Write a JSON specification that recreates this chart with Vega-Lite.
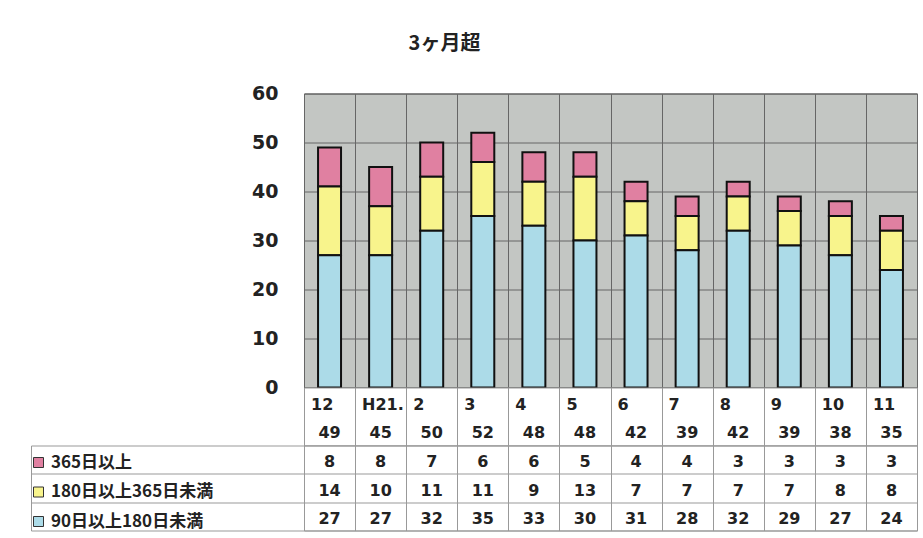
{
  "$schema": "https://vega.github.io/schema/vega-lite/v6.json",
  "background": "white",
  "padding": {"left": 30, "top": 32.5, "right": 7, "bottom": 9},
  "spacing": 0,
  "bounds": "flush",
  "config": {
    "font": "DejaVu Sans",
    "text": {"font": "DejaVu Sans", "fontSize": 16, "fontWeight": "bold", "color": "#222222"}
  },
  "datasets": {
    "seriesRank": [
      {"series": "90日以上180日未満", "rank": 1},
      {"series": "180日以上365日未満", "rank": 2},
      {"series": "365日以上", "rank": 3}
    ],
    "counts": [
      {"month": "12", "series": "365日以上", "value": 8},
      {"month": "12", "series": "180日以上365日未満", "value": 14},
      {"month": "12", "series": "90日以上180日未満", "value": 27},
      {"month": "H21.", "series": "365日以上", "value": 8},
      {"month": "H21.", "series": "180日以上365日未満", "value": 10},
      {"month": "H21.", "series": "90日以上180日未満", "value": 27},
      {"month": "2", "series": "365日以上", "value": 7},
      {"month": "2", "series": "180日以上365日未満", "value": 11},
      {"month": "2", "series": "90日以上180日未満", "value": 32},
      {"month": "3", "series": "365日以上", "value": 6},
      {"month": "3", "series": "180日以上365日未満", "value": 11},
      {"month": "3", "series": "90日以上180日未満", "value": 35},
      {"month": "4", "series": "365日以上", "value": 6},
      {"month": "4", "series": "180日以上365日未満", "value": 9},
      {"month": "4", "series": "90日以上180日未満", "value": 33},
      {"month": "5", "series": "365日以上", "value": 5},
      {"month": "5", "series": "180日以上365日未満", "value": 13},
      {"month": "5", "series": "90日以上180日未満", "value": 30},
      {"month": "6", "series": "365日以上", "value": 4},
      {"month": "6", "series": "180日以上365日未満", "value": 7},
      {"month": "6", "series": "90日以上180日未満", "value": 31},
      {"month": "7", "series": "365日以上", "value": 4},
      {"month": "7", "series": "180日以上365日未満", "value": 7},
      {"month": "7", "series": "90日以上180日未満", "value": 28},
      {"month": "8", "series": "365日以上", "value": 3},
      {"month": "8", "series": "180日以上365日未満", "value": 7},
      {"month": "8", "series": "90日以上180日未満", "value": 32},
      {"month": "9", "series": "365日以上", "value": 3},
      {"month": "9", "series": "180日以上365日未満", "value": 7},
      {"month": "9", "series": "90日以上180日未満", "value": 29},
      {"month": "10", "series": "365日以上", "value": 3},
      {"month": "10", "series": "180日以上365日未満", "value": 8},
      {"month": "10", "series": "90日以上180日未満", "value": 27},
      {"month": "11", "series": "365日以上", "value": 3},
      {"month": "11", "series": "180日以上365日未満", "value": 8},
      {"month": "11", "series": "90日以上180日未満", "value": 24}
    ]
  },
  "vconcat": [
    {
      "width": 613,
      "height": 294,
      "title": {
        "text": "3ヶ月超",
        "anchor": "middle",
        "frame": "group",
        "dx": -166,
        "offset": 31,
        "font": "Noto Sans CJK JP",
        "fontSize": 20,
        "fontWeight": "bold",
        "color": "#222222"
      },
      "view": {"fill": "#c3c6c3", "stroke": "#555555", "strokeWidth": 1},
      "data": {"name": "counts"},
      "transform": [
        {"lookup": "series", "from": {"data": {"name": "seriesRank"}, "key": "series", "fields": ["rank"]}}
      ],
      "mark": {"type": "bar", "width": {"band": 0.45}, "stroke": "#111111", "strokeWidth": 2},
      "encoding": {
        "x": {
          "field": "month",
          "type": "ordinal",
          "sort": null,
          "scale": {"paddingInner": 0, "paddingOuter": 0},
          "axis": {
            "title": null,
            "labels": false,
            "ticks": false,
            "domain": false,
            "grid": true,
            "tickBand": "extent",
            "gridColor": "#666666",
            "gridWidth": 1
          }
        },
        "y": {
          "field": "value",
          "type": "quantitative",
          "stack": "zero",
          "scale": {"domain": [0, 60]},
          "axis": {
            "title": null,
            "values": [0, 10, 20, 30, 40, 50, 60],
            "ticks": false,
            "domain": false,
            "grid": true,
            "gridColor": "#666666",
            "gridWidth": 1,
            "labelPadding": 26,
            "labelFont": "DejaVu Sans",
            "labelFontSize": 19,
            "labelFontWeight": "bold",
            "labelColor": "#222222"
          }
        },
        "order": {"field": "rank", "type": "quantitative", "sort": "ascending"},
        "color": {
          "field": "series",
          "type": "nominal",
          "sort": ["365日以上", "180日以上365日未満", "90日以上180日未満"],
          "scale": {"range": ["#e080a1", "#f8f48c", "#acdbe8"]},
          "legend": {
            "orient": "none",
            "legendX": -274,
            "legendY": 360.5,
            "title": null,
            "padding": 0,
            "symbolType": "square",
            "symbolSize": 100,
            "symbolStrokeColor": "#333333",
            "symbolStrokeWidth": 1,
            "labelFont": "Noto Sans CJK JP",
            "labelFontSize": 17,
            "labelFontWeight": "bold",
            "labelColor": "#222222",
            "labelOffset": 4,
            "labelLimit": 300,
            "rowPadding": 11.5
          }
        }
      }
    },
    {
      "width": 613,
      "height": 58,
      "view": {"fill": "white", "stroke": "#999999", "strokeWidth": 1},
      "data": {"name": "counts"},
      "transform": [
        {"aggregate": [{"op": "sum", "field": "value", "as": "total"}], "groupby": ["month"]}
      ],
      "layer": [
        {
          "mark": {"type": "text", "align": "left", "dx": 7, "dy": 2.5},
          "encoding": {
            "x": {
              "field": "month",
              "type": "ordinal",
              "sort": null,
              "bandPosition": 0,
              "scale": {"paddingInner": 0, "paddingOuter": 0},
              "axis": {
                "title": null,
                "labels": false,
                "ticks": false,
                "domain": false,
                "grid": true,
                "tickBand": "extent",
                "gridColor": "#999999"
              }
            },
            "y": {"datum": "month", "type": "nominal", "scale": {"domain": ["month", "total"]}, "axis": null},
            "text": {"field": "month", "type": "nominal"}
          }
        },
        {
          "mark": {"type": "text", "dy": 1.5},
          "encoding": {
            "x": {
              "field": "month",
              "type": "ordinal",
              "sort": null,
              "scale": {"paddingInner": 0, "paddingOuter": 0},
              "axis": {
                "title": null,
                "labels": false,
                "ticks": false,
                "domain": false,
                "grid": true,
                "tickBand": "extent",
                "gridColor": "#999999"
              }
            },
            "y": {"datum": "total", "type": "nominal", "scale": {"domain": ["month", "total"]}, "axis": null},
            "text": {"field": "total", "type": "quantitative"}
          }
        }
      ]
    },
    {
      "width": 613,
      "height": 85,
      "view": {"fill": "white", "stroke": "#999999", "strokeWidth": 1},
      "data": {"name": "counts"},
      "mark": {"type": "text", "dy": 2.5},
      "encoding": {
        "x": {
          "field": "month",
          "type": "ordinal",
          "sort": null,
          "scale": {"paddingInner": 0, "paddingOuter": 0},
          "axis": {
            "title": null,
            "labels": false,
            "ticks": false,
            "domain": false,
            "grid": true,
            "tickBand": "extent",
            "gridColor": "#999999"
          }
        },
        "y": {
          "field": "series",
          "type": "nominal",
          "sort": ["365日以上", "180日以上365日未満", "90日以上180日未満"],
          "scale": {"type": "band", "paddingInner": 0, "paddingOuter": 0},
          "axis": {
            "title": null,
            "labels": false,
            "offset": 273,
            "domain": true,
            "domainColor": "#999999",
            "ticks": true,
            "tickSize": -273,
            "tickColor": "#999999",
            "tickBand": "extent",
            "grid": true,
            "gridColor": "#999999"
          }
        },
        "text": {"field": "value", "type": "quantitative"}
      }
    }
  ]
}
